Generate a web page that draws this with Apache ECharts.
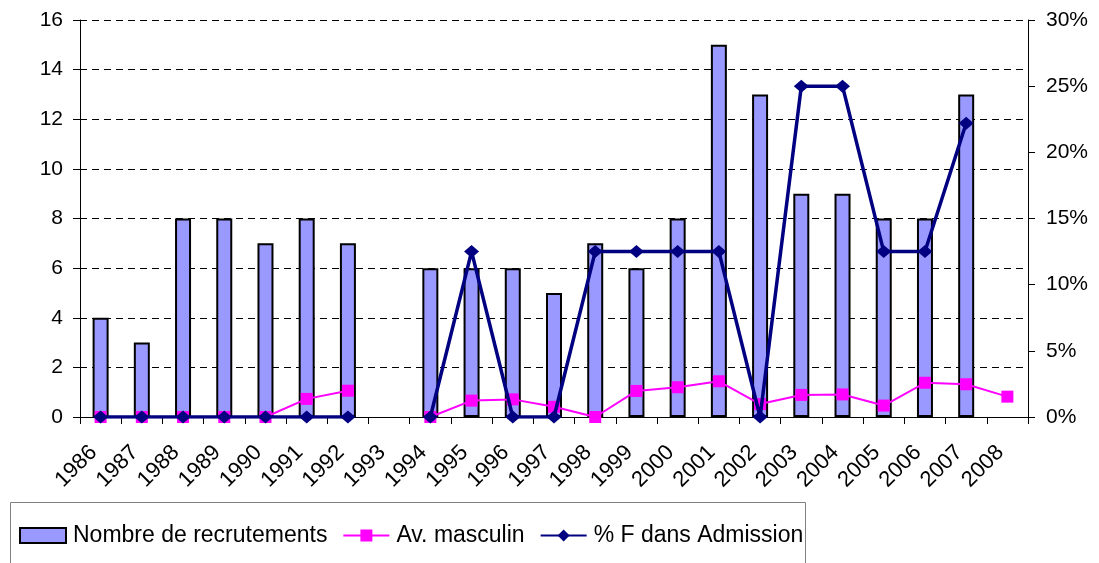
<!DOCTYPE html>
<html><head><meta charset="utf-8">
<script src="https://cdn.jsdelivr.net/npm/echarts@6/dist/echarts.min.js"></script>
<style>html,body{margin:0;padding:0;background:#fff}#c{width:1099px;height:563px}</style>
</head><body><div id="c"></div>
<script>
const categories = ['1986','1987','1988','1989','1990','1991','1992','1993','1994','1995','1996','1997','1998','1999','2000','2001','2002','2003','2004','2005','2006','2007','2008'];
const recrutements = [4,3,8,8,7,8,7,null,6,6,6,5,7,6,8,15,13,9,9,8,8,13,null];
const avMasculin = [0,0,0,0,0,0.73,1.06,null,0,0.66,0.71,0.41,0,1.05,1.2,1.44,0.52,0.89,0.91,0.46,1.38,1.32,0.82];
const pctF = [0,0,0,0,0,0,0,null,0,12.5,0,0,12.5,12.5,12.5,12.5,0,25,25,12.5,12.5,22.2,null];
const leftTicks = [0,16,2];
const rightTicks = [0,30,5];

const FONT = 'Liberation Sans, Arial, sans-serif';
const chart = echarts.init(document.getElementById('c'));
chart.setOption({
  animation: false,
  textStyle: {fontFamily: FONT},
  grid: {left: 80, right: 71, top: 20, bottom: 146, containLabel: false},
  graphic: [{type: 'rect', shape: {x: 10.5, y: 502.5, width: 795, height: 80}, style: {fill: 'none', stroke: '#808080', lineWidth: 1}, silent: true}],
  legend: {
    left: 19, top: 524, padding: 0, itemWidth: 46, itemHeight: 15, itemGap: 15,
    textStyle: {fontFamily: FONT, fontSize: 23, color: '#000', padding: [0, 0, 0, 2]},
    data: [{name: 'Nombre de recrutements', icon: 'rect'}, {name: 'Av. masculin'}, {name: '% F dans Admission'}]
  },
  xAxis: {
    type: 'category', data: categories, boundaryGap: true,
    axisLine: {lineStyle: {color: '#000', width: 1}},
    axisTick: {show: true, interval: 0, length: 7, lineStyle: {color: '#000'}},
    axisLabel: {interval: 0, rotate: 45, fontSize: 22, color: '#000', fontFamily: FONT, margin: 25, padding: [0, 10, 0, 0]}
  },
  yAxis: [{
    type: 'value', min: leftTicks[0], max: leftTicks[1], interval: leftTicks[2],
    axisLine: {show: true, lineStyle: {color: '#000'}},
    axisTick: {show: true, length: 7, lineStyle: {color: '#000'}},
    axisLabel: {fontSize: 21, color: '#000', fontFamily: FONT, margin: 17},
    splitLine: {show: true, lineStyle: {color: '#000', type: [7, 5], width: 1}}
  }, {
    type: 'value', min: rightTicks[0], max: rightTicks[1], interval: rightTicks[2],
    position: 'right',
    axisLine: {show: true, lineStyle: {color: '#000'}},
    axisTick: {show: true, length: 7, lineStyle: {color: '#000'}},
    axisLabel: {fontSize: 21, color: '#000', fontFamily: FONT, margin: 18, formatter: '{value}%'},
    splitLine: {show: false}
  }],
  series: [{
    name: 'Nombre de recrutements', type: 'bar', data: recrutements, yAxisIndex: 0,
    barWidth: 16,
    itemStyle: {color: '#9999FF', borderColor: '#000', borderWidth: 2},
    z: 2
  }, {
    name: 'Av. masculin', type: 'line', data: avMasculin, yAxisIndex: 0,
    symbol: 'rect', symbolSize: 12, connectNulls: false,
    lineStyle: {color: '#FF00FF', width: 2},
    itemStyle: {color: '#FF00FF'},
    z: 3
  }, {
    name: '% F dans Admission', type: 'line', data: pctF, yAxisIndex: 1,
    symbol: 'diamond', symbolSize: [15, 13], connectNulls: false,
    lineStyle: {color: '#000080', width: 3.5},
    itemStyle: {color: '#000080'},
    z: 4
  }]
});
</script></body></html>
